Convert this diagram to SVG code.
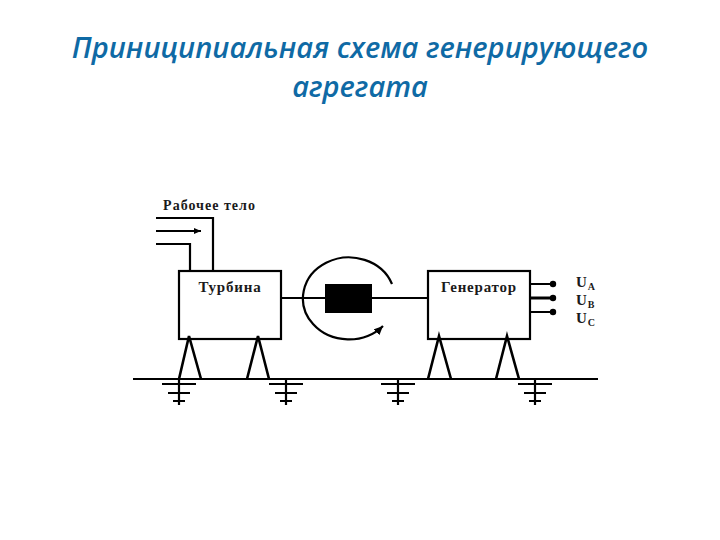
<svg xmlns="http://www.w3.org/2000/svg" width="720" height="540" viewBox="0 0 720 540">
<defs>
<marker id="a" markerUnits="userSpaceOnUse" markerWidth="8" markerHeight="6" refX="7" refY="3" orient="auto"><path d="M0 0L7 3L0 6z" fill="#000"/></marker>
<marker id="b" markerUnits="userSpaceOnUse" markerWidth="10" markerHeight="8" refX="9" refY="4" orient="auto"><path d="M0 0L9 4L0 8z" fill="#000"/></marker>
<g id="gnd" class="l"><path d="M-17 0H17M-11 9H11M-6 17H6M0 -4V21"/></g>
</defs>
<style>
.l{fill:none;stroke:#000;stroke-width:2.2}
.t{font-family:"Liberation Serif",serif;font-size:15px;font-weight:bold;fill:#1a1a1a;text-anchor:middle;letter-spacing:.8px}
.h{font-family:"Open Sans","DejaVu Sans",sans-serif;font-size:29px;font-style:italic;font-weight:600;fill:#0f6aa5;text-anchor:middle}
</style>
<rect width="720" height="540" fill="#fff"/>
<g id="title"><text class="h" x="360" y="58">Приниципиальная схема генерирующего</text><text class="h" x="360" y="97">агрегата</text></g>
<g id="connectors" class="l">
<path d="M156 218H213V271"/>
<path d="M156 231H201" marker-end="url(#a)"/>
<path d="M156 244H190V271"/>
<path d="M281 298H327M372 298H428"/>
<path d="M392 284A46 41 0 1 0 383 326" marker-end="url(#b)"/>
<path d="M133 379H598"/>
<path d="M179 379L189 336L201 379M247 379L258 336L269 379M428 379L439 336L451 379M496 379L507 336L519 379" stroke-width="2.6"/>
<path d="M530 284H553M530 312H553"/>
<path d="M530 298H553" stroke-width="3"/>
</g>
<g id="grounds">
<use href="#gnd" x="179" y="384"/><use href="#gnd" x="286" y="384"/><use href="#gnd" x="398" y="384"/><use href="#gnd" x="535" y="384"/>
</g>
<g id="turbine"><rect class="l" x="179" y="271" width="102" height="68"/><text class="t" x="230" y="292">Турбина</text></g>
<g id="rotor"><rect x="325" y="284" width="47" height="29" fill="#000"/></g>
<g id="generator"><rect class="l" x="428" y="271" width="102" height="68"/><text class="t" x="479" y="292">Генератор</text></g>
<g id="terminals" fill="#000"><circle cx="553" cy="284" r="3.2"/><circle cx="553" cy="298" r="3.2"/><circle cx="553" cy="312" r="3.2"/></g>
<g id="labels">
<text class="t" x="209.500" y="210" style="font-size:14px;letter-spacing:1px">Рабочее тело</text>
<text class="t" x="576" y="287" style="text-anchor:start">U<tspan font-size="10" dy="3">A</tspan></text>
<text class="t" x="576" y="305" style="text-anchor:start">U<tspan font-size="10" dy="3">B</tspan></text>
<text class="t" x="576" y="323" style="text-anchor:start">U<tspan font-size="10" dy="3">C</tspan></text>
</g>
</svg>
